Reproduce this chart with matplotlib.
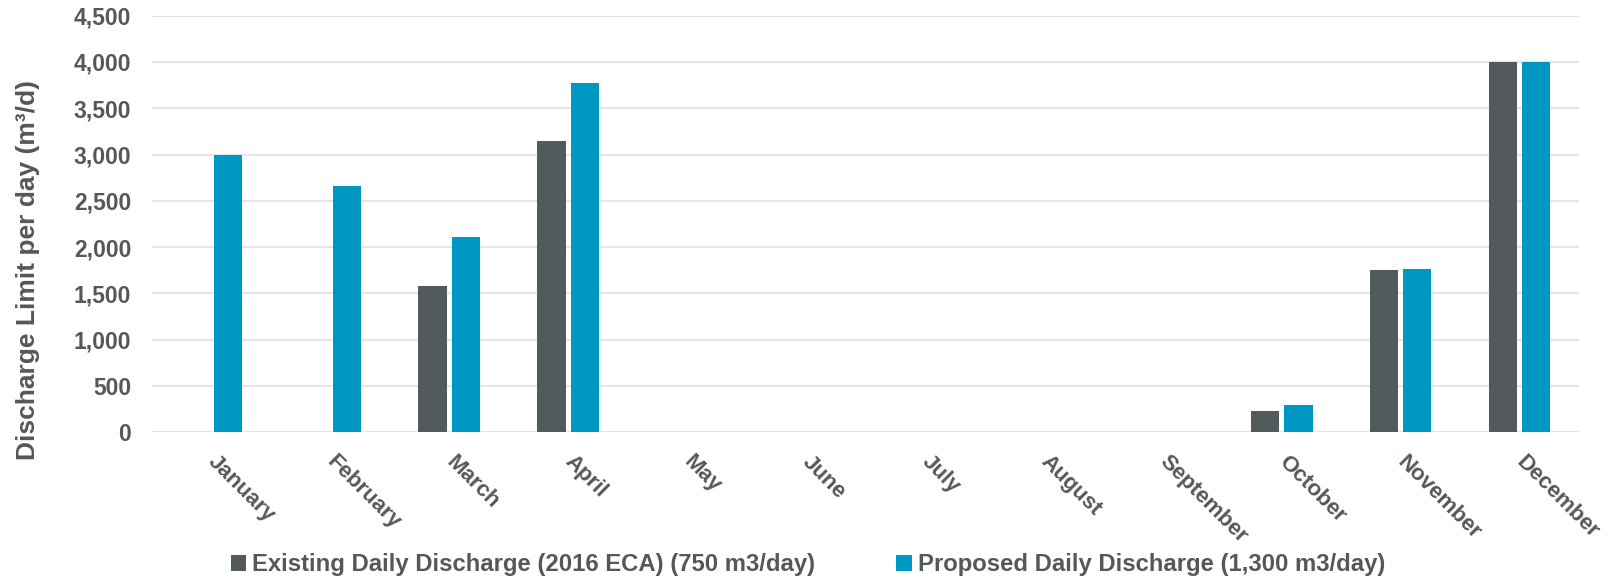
import matplotlib
matplotlib.use('Agg')
import matplotlib.pyplot as plt
import numpy as np
from matplotlib.ticker import FuncFormatter

months = ['January', 'February', 'March', 'April', 'May', 'June', 'July',
          'August', 'September', 'October', 'November', 'December']
existing = [0, 0, 1580, 3150, 0, 0, 0, 0, 0, 230, 1750, 4000]
proposed = [3000, 2660, 2110, 3770, 0, 0, 0, 0, 0, 300, 1760, 4000]
series_names = ['Existing Daily Discharge (2016 ECA) (750 m3/day)',
                'Proposed Daily Discharge (1,300 m3/day)']

grey = '#525A5C'
blue = '#0098C3'
text_col = '#53585B'

plt.rcParams['font.family'] = ['Liberation Sans', 'DejaVu Sans']
plt.rcParams['font.weight'] = 'bold'

fig = plt.figure(figsize=(16.16, 5.81), dpi=100)
ax = fig.add_axes([152 / 1616, 1 - 432.3 / 581, 1427 / 1616, 416.6 / 581])

x = np.arange(len(months))
w = 0.238
gap = 0.042
ax.bar(x - (w + gap) / 2, existing, width=w, color=grey, label=series_names[0], zorder=3)
ax.bar(x + (w + gap) / 2, proposed, width=w, color=blue, label=series_names[1], zorder=3)

ax.set_xlim(-0.5, len(months) - 0.5)
ax.set_ylim(0, 4500)
ax.set_yticks(np.arange(0, 4501, 500))
ax.yaxis.set_major_formatter(FuncFormatter(lambda v, p: f'{v:,.0f}'))
ax.grid(axis='y', color='#E3E6E6', linewidth=1.5, zorder=0)
for s in ax.spines.values():
    s.set_visible(False)

ax.tick_params(axis='y', length=0, pad=15, labelsize=16.5, labelcolor=text_col)
ax.tick_params(axis='x', length=0, pad=19, labelsize=16, labelcolor=text_col)
ax.set_xticks(x)
ax.set_xticklabels(months, rotation=-45, ha='left', va='center', rotation_mode='anchor')

ax.set_ylabel('Discharge Limit per day (m³/d)', fontsize=19,
              color=text_col, fontweight='bold')
ax.yaxis.set_label_coords(-0.0785, 0.39)

fig.legend(loc='center', bbox_to_anchor=(0.5, 1 - 565 / 581), ncol=2,
           frameon=False, handlelength=0.65, handleheight=0.6, handletextpad=0.25,
           columnspacing=3.4, prop={'weight': 'bold', 'size': 17.2},
           labelcolor=text_col)

fig.savefig('out.png', dpi=100)
